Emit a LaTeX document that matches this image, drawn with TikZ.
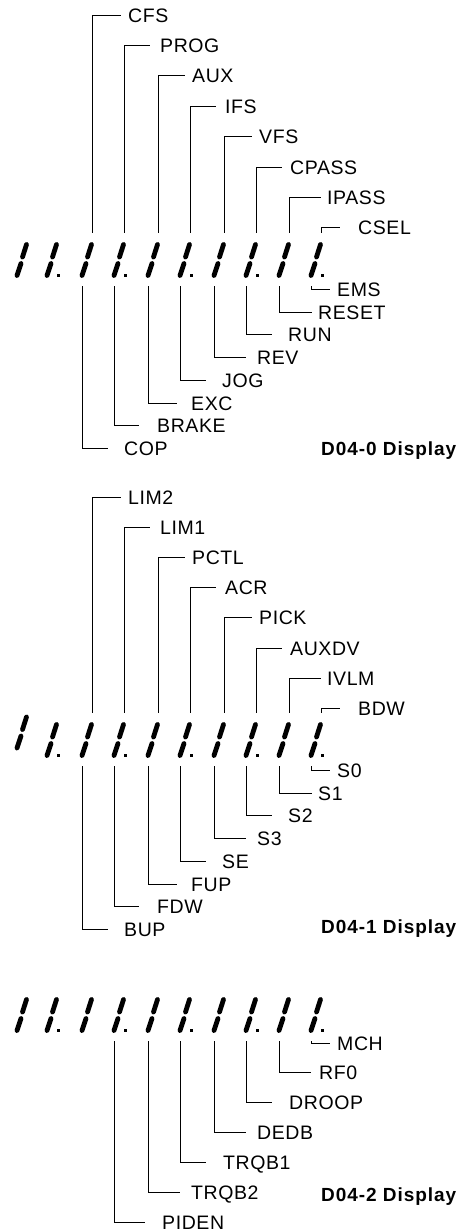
\documentclass[tikz,border=0pt]{standalone}
\usepackage{fontspec}
\setmainfont{Liberation Sans}
\newfontfamily\tagfont[LetterSpace=3]{Liberation Sans}
\newfontfamily\capfont[LetterSpace=5]{Liberation Sans}

% one slanted segment digit: name, x of lower end, y of lower end
\newcommand{\segdigit}[3]{%
  \draw[seg] ({#2+9.5},{#3-31}) -- ({#2+5.5},{#3-18.5});
  \draw[seg] ({#2+4},{#3-12}) -- (#2,#3);
  \coordinate (#1-t) at ({#2+10},{#3-43});
  \coordinate (#1-b) at (#2,{#3+10.5});
}

\begin{document}
\begin{tikzpicture}[x=1pt, y=-1pt,
    seg/.style={line width=4.8pt, line cap=round},
    lead/.style={line width=0.9pt},
    tag/.style={font={\tagfont\fontsize{19.5}{22}\selectfont}, inner sep=0pt, text height=14pt, text depth=0pt, anchor=west},
    ttl/.style={font={\capfont\bfseries\fontsize{19}{22}\selectfont}, inner sep=0pt, text height=13.6pt, text depth=0pt, anchor=west}]
  \useasboundingbox (0,0) rectangle (467,1232);

  % 1. D04-0
  \foreach \b [count=\i] in {17,47,82,114,148,180,214,246,279,311}
    {\segdigit{a\i}{\b}{275.5}}
  \foreach \b in {47,114,180,246,311}
    \fill ({\b+10},274) rectangle +(3,3);
  \foreach \i/\ex/\lx/\t [count=\k from 0] in {3/121/128/CFS,4/150/160/PROG,5/185/192/AUX,6/216/225/IFS,7/252/259/VFS,8/282/290/CPASS,9/321/327/IPASS,10/340/358/CSEL} {
    \node[tag] (\t) at (\lx,{15+30.4*\k}) {\t};
    \draw[lead, shorten >={(\lx-\ex)*1pt}] (a\i-t) |- (\t.west);
  }
  \foreach \i/\ex/\lx/\t [count=\k from 0] in {10/330/337/EMS,9/312/318/RESET,8/272/288/RUN,7/246/257/REV,6/206/222/JOG,5/177/191/EXC,4/139/157/BRAKE,3/108/124/COP} {
    \node[tag] (\t) at (\lx,{289.5+22.7*\k}) {\t};
    \draw[lead, shorten >={(\lx-\ex)*1pt}] (a\i-b) |- (\t.west);
  }
  \node[ttl] (disp0) at (321,449) {D04-0 Display};

  % 2. D04-1
  \foreach \b/\y [count=\i] in {17/748,47/755.5,82/755.5,114/755.5,148/755.5,180/755.5,214/755.5,246/755.5,279/755.5,311/755.5}
    {\segdigit{b\i}{\b}{\y}}
  \foreach \b in {47,114,180,246,311}
    \fill ({\b+10},754) rectangle +(3,3);
  \foreach \i/\ex/\lx/\t [count=\k from 0] in {3/121/128/LIM2,4/150/160/LIM1,5/185/192/PCTL,6/216/225/ACR,7/252/259/PICK,8/282/290/AUXDV,9/321/327/IVLM,10/340/358/BDW} {
    \node[tag] (\t) at (\lx,{497.5+30.1*\k}) {\t};
    \draw[lead, shorten >={(\lx-\ex)*1pt}] (b\i-t) |- (\t.west);
  }
  \foreach \i/\ex/\lx/\t [count=\k from 0] in {10/330/337/S0,9/312/318/S1,8/272/288/S2,7/246/257/S3,6/206/222/SE,5/177/191/FUP,4/139/157/FDW,3/108/124/BUP} {
    \node[tag] (\t) at (\lx,{770.5+22.7*\k}) {\t};
    \draw[lead, shorten >={(\lx-\ex)*1pt}] (b\i-b) |- (\t.west);
  }
  \node[ttl] (disp1) at (321,927) {D04-1 Display};

  % 3. D04-2
  \foreach \b [count=\i] in {17,47,82,114,148,180,214,246,279,311}
    {\segdigit{c\i}{\b}{1030.5}}
  \foreach \b in {47,114,180,246,311}
    \fill ({\b+10},1029) rectangle +(3,3);
  \foreach \i/\ex/\lx/\t [count=\k from 0] in {10/330/337/MCH,9/311/319/RF0,8/272/289/DROOP,7/246/257/DEDB,6/206/223/TRQB1,5/180/191/TRQB2,4/145/162/PIDEN} {
    \node[tag] (\t) at (\lx,{1043+29.9*\k}) {\t};
    \draw[lead, shorten >={(\lx-\ex)*1pt}] (c\i-b) |- (\t.west);
  }
  \node[ttl] (disp2) at (321,1195) {D04-2 Display};
\end{tikzpicture}
\end{document}
